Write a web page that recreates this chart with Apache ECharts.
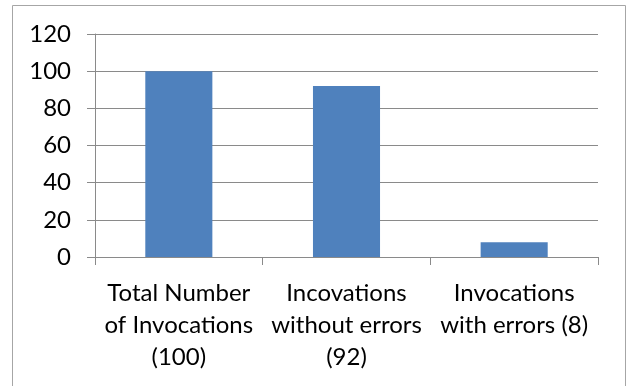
<!DOCTYPE html>
<html>
<head>
<meta charset="utf-8">
<style>
  html, body { margin: 0; padding: 0; background: #ffffff; }
  #chart { width: 627px; height: 386px; }
</style>
<script src="https://cdn.jsdelivr.net/npm/echarts@6/dist/echarts.min.js"></script>
</head>
<body>
<div id="chart"></div>
<script>
// Invocation counts
const categories = [
  'Total Number\nof Invocations\n(100)',
  'Incovations\nwithout errors\n(92)',
  'Invocations\nwith errors (8)'
];
const invocationCounts = [100, 92, 8];
const yTicks = { min: 0, max: 120, interval: 20 };

const chart = echarts.init(document.getElementById('chart'), null, { renderer: 'canvas' });
const fontFamily = 'Lato, "Open Sans", sans-serif';
const gray = '#8a8a8a';

chart.setOption({
  animation: false,
  backgroundColor: '#ffffff',
  graphic: [{
    type: 'rect',
    shape: { x: 12.5, y: 5.5, width: 613, height: 400 },
    style: { fill: 'none', stroke: '#a6a6a6', lineWidth: 1 },
    silent: true
  }],
  grid: { left: 95, right: 29, top: 34, bottom: 129, containLabel: false },
  xAxis: {
    type: 'category',
    data: categories,
    axisLine: { lineStyle: { color: gray, width: 1 } },
    axisTick: { show: true, length: 8, alignWithLabel: false, lineStyle: { color: gray } },
    axisLabel: {
      interval: 0,
      color: '#000000',
      fontFamily: fontFamily,
      fontSize: 24,
      lineHeight: 32,
      margin: 20,
      align: 'center'
    }
  },
  yAxis: {
    type: 'value',
    min: yTicks.min,
    max: yTicks.max,
    interval: yTicks.interval,
    axisLine: { show: true, lineStyle: { color: gray, width: 1 } },
    axisTick: { show: true, length: 8, lineStyle: { color: gray } },
    splitLine: { show: true, lineStyle: { color: gray, width: 1 } },
    axisLabel: {
      color: '#000000',
      fontFamily: fontFamily,
      fontSize: 24,
      margin: 24
    }
  },
  series: [{
    type: 'bar',
    data: invocationCounts,
    barWidth: '40%',
    itemStyle: { color: '#4f81bd' }
  }]
});
</script>
</body>
</html>
